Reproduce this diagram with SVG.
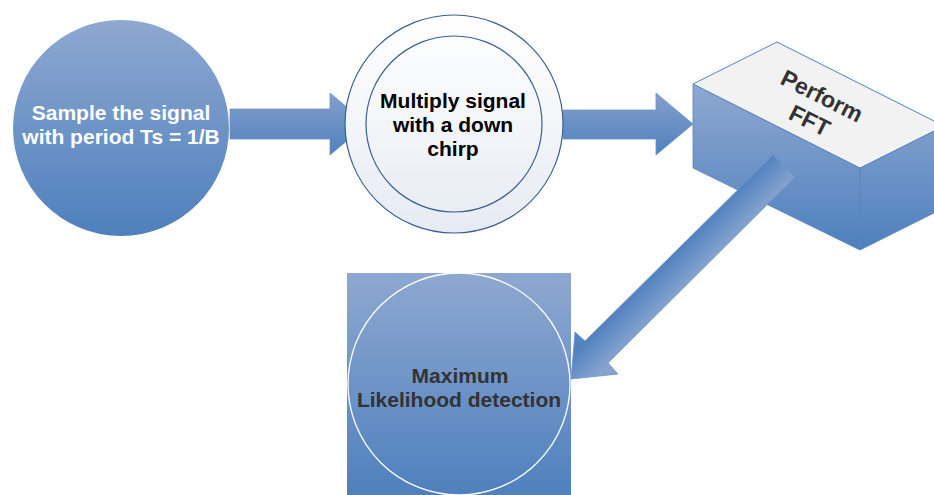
<svg xmlns="http://www.w3.org/2000/svg" width="934" height="495" viewBox="0 0 934 495">
<defs>
<linearGradient id="gBlue" x1="0" y1="0" x2="0" y2="1">
<stop offset="0" stop-color="#8ea8d0"/>
<stop offset="1" stop-color="#4e80bd"/>
</linearGradient>
<linearGradient id="gArrow" x1="0" y1="0" x2="0" y2="1">
<stop offset="0" stop-color="#849fcc"/>
<stop offset="1" stop-color="#4f81bd"/>
</linearGradient>
<linearGradient id="gDiag" gradientUnits="userSpaceOnUse" x1="680" y1="248" x2="702" y2="270">
<stop offset="0" stop-color="#5283bf"/>
<stop offset="1" stop-color="#86a2cf"/>
</linearGradient>
<linearGradient id="gLight" x1="0" y1="0" x2="0" y2="1">
<stop offset="0" stop-color="#ffffff"/>
<stop offset="1" stop-color="#e6ebf3"/>
</linearGradient>
<linearGradient id="gFront" gradientUnits="userSpaceOnUse" x1="0" y1="84" x2="0" y2="250">
<stop offset="0" stop-color="#8ea8d0"/>
<stop offset="1" stop-color="#4e80bd"/>
</linearGradient>
</defs>
<style>
.t{font-family:"Liberation Sans",Arial,sans-serif;font-weight:bold;font-size:21px;text-anchor:middle}
.w{fill:#ffffff}
.k{fill:#000000}
.d{fill:#333333}
.arr{fill:url(#gArrow);stroke:#6f93c6;stroke-width:0.8}
</style>
<g id="connectors">
<path class="arr" d="M230,109 H330 V93 L367,124 L330,155 V139 H230 Z"/>
<path class="arr" d="M563,110 H656 V93 L693,124 L656,155 V139 H563 Z"/>
</g>
<g id="node-sample">
<circle cx="121" cy="128" r="108" fill="url(#gBlue)"/>
<text class="t w" x="121" y="120">Sample the signal</text>
<text class="t w" x="121" y="144">with period Ts = 1/B</text>
</g>
<g id="node-multiply">
<circle cx="454" cy="124" r="109" fill="url(#gLight)" stroke="#3b5f8e" stroke-width="1.2"/>
<circle cx="454" cy="124" r="88" fill="none" stroke="#3b5f8e" stroke-width="1.2"/>
<text class="t k" x="453" y="108">Multiply signal</text>
<text class="t k" x="453" y="132">with a down</text>
<text class="t k" x="453" y="156">chirp</text>
</g>
<g id="node-fft">
<polygon points="693,84 860,168 860,250 693,168" fill="url(#gFront)" stroke="#5a87c0" stroke-width="0.8"/>
<polygon points="860,168 944,126 944,208 860,250" fill="url(#gFront)" stroke="#5a87c0" stroke-width="0.8"/>
<polygon points="693,84 777,42 944,126 860,168" fill="#f2f2f2" stroke="#4f81bd" stroke-width="1"/>
<g transform="translate(816,108) rotate(26.7)">
<text class="t d" style="font-size:23px" x="0" y="-5.5">Perform</text>
<text class="t d" style="font-size:23px" x="0" y="22">FFT</text>
</g>
</g>
<g id="connector-diag">
<path d="M773,155 L795,177 L608,363 L618,374 L571,379 L575,332 L585,341 Z" fill="url(#gDiag)" stroke="#6f93c6" stroke-width="0.8"/>
</g>
<g id="node-ml">
<rect x="347" y="273" width="224" height="224" fill="url(#gBlue)"/>
<circle cx="459" cy="384" r="111" fill="none" stroke="#ffffff" stroke-width="1.3"/>
<text class="t d" x="460" y="383">Maximum</text>
<text class="t d" x="459" y="407">Likelihood detection</text>
</g>
</svg>
